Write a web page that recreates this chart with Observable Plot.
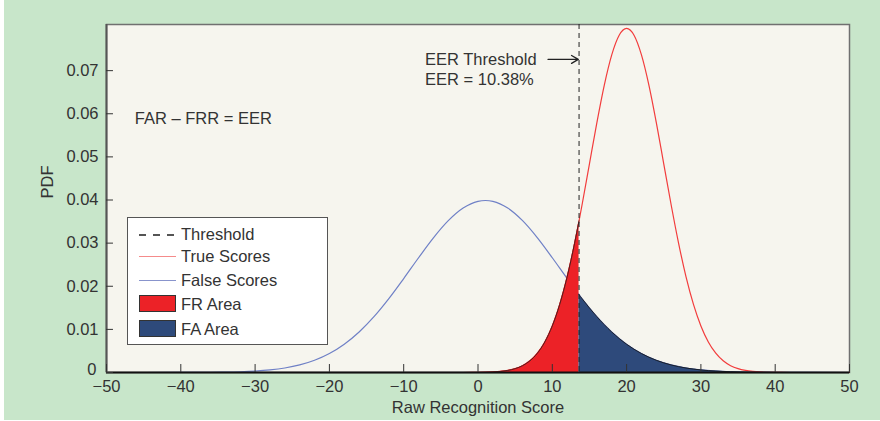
<!DOCTYPE html>
<html><head><meta charset="utf-8">
<script src="https://cdn.jsdelivr.net/npm/d3@7"></script>
<script src="https://cdn.jsdelivr.net/npm/@observablehq/plot@0.6"></script>
<style>
html,body{margin:0;padding:0;background:#fff;}
#wrap{position:relative;width:880px;height:421px;overflow:hidden;font-family:"Liberation Sans",Arial,sans-serif;}
#bg{position:absolute;left:4px;top:0;width:876px;height:420px;background:#c8e6ca;}
#chart{position:absolute;left:0;top:0;}
#legend{position:absolute;left:127px;top:217px;width:201px;height:128px;background:#fff;border:1px solid #555;box-sizing:border-box;}
.it{position:absolute;left:0;height:20px;width:200px;}
.it .sw{position:absolute;left:11px;width:37px;}
.it .lb{position:absolute;left:53px;top:0;font-size:16.5px;line-height:20px;color:#333;white-space:nowrap;}
</style></head>
<body><div id="wrap"><div id="bg"></div><div id="chart"></div><div id="legend"></div></div>
<script>
const threshold = 13.6;
const xTicks = [-50,-40,-30,-20,-10,0,10,20,30,40,50];
const yTicks = [0,0.01,0.02,0.03,0.04,0.05,0.06,0.07];

const falseX = [-50,-40,-36,-34,-32,-30,-28,-26,-24,-22,-20,-18,-16,-14,-12,-10,-8,-6,-4,-2,0,1,2,4,6,8,10,12,13.6,14,16,18,20,22,24,26,28,30,32,34,36,38,40,50];
const falseY = [0,0.0000089,0.000042,0.000087,0.000172,0.000327,0.000595,0.001042,0.001753,0.002832,0.00440,0.00656,0.00940,0.01295,0.01714,0.02179,0.02661,0.03123,0.03521,0.03814,0.03970,0.03989,0.03970,0.03814,0.03521,0.03123,0.02661,0.02179,0.01804,0.01714,0.01295,0.00940,0.00656,0.00440,0.002832,0.001753,0.001042,0.000595,0.000327,0.000172,0.000087,0.000042,0.0000199,0];

const trueX = [-50,-4,-2,0,2,4,5,6,7,8,9,10,11,12,13,13.6,14,15,16,17,18,19,20,21,22,23,24,25,26,27,28,29,30,31,32,33,34,35,36,37,38,39,40,42,44,50];
const trueY = [0,0.0000008,0.000005,0.0000268,0.0001224,0.000477,0.000887,0.001583,0.002717,0.00448,0.00709,0.01080,0.01579,0.02218,0.02995,0.03517,0.03884,0.04839,0.05794,0.06665,0.07365,0.07821,0.07979,0.07821,0.07365,0.06665,0.05794,0.04839,0.03884,0.02995,0.02218,0.01579,0.01080,0.00709,0.00448,0.002717,0.001583,0.000887,0.000477,0.000246,0.0001224,0.000058,0.0000268,0.000005,0.0000008,0];

const annotationLines = ["EER Threshold", "EER = 10.38%"];
const formulaText = "FAR \u2013 FRR = EER";
const xLabel = "Raw Recognition Score";
const yLabel = "PDF";
const legendItems = [
  {label:"Threshold", kind:"dash", color:"#555"},
  {label:"True Scores", kind:"line", color:"#f58b8b"},
  {label:"False Scores", kind:"line", color:"#8894cc"},
  {label:"FR Area", kind:"patch", color:"#ec2227"},
  {label:"FA Area", kind:"patch", color:"#2e4a7b"}
];

const trueData = trueX.map((x,i)=>({x, y:trueY[i]}));
const falseData = falseX.map((x,i)=>({x, y:falseY[i]}));
const frData = trueData.filter(d=>d.x<=threshold);
const faData = falseData.filter(d=>d.x>=threshold);

const curve = "monotone-x";
const chart = Plot.plot({
  width:880, height:421,
  marginLeft:106, marginRight:31, marginTop:24, marginBottom:49,
  x:{domain:[-50,50]},
  y:{domain:[0,0.0807]},
  style:{background:"transparent", fontFamily:"'Liberation Sans', Arial, sans-serif", fontSize:"16.5px", color:"#333", overflow:"visible"},
  marks:[
    Plot.frame({fill:"#f6f5ee", stroke:"#707070", strokeWidth:1.5}),
    Plot.line(falseData, {x:"x", y:"y", stroke:"#6f80c6", strokeWidth:1.2, curve}),
    Plot.line(trueData, {x:"x", y:"y", stroke:"#f23c3c", strokeWidth:1.2, curve}),
    Plot.areaY(frData, {x:"x", y:"y", fill:"#ec2227", curve}),
    Plot.line(frData, {x:"x", y:"y", stroke:"#2a1a1a", strokeWidth:0.8, curve}),
    Plot.areaY(faData, {x:"x", y:"y", fill:"#2e4a7b", curve}),
    Plot.line(faData, {x:"x", y:"y", stroke:"#111", strokeWidth:0.8, curve}),
    Plot.ruleX([threshold], {stroke:"#222", strokeWidth:1, strokeDasharray:"5,4"}),
    Plot.ruleY([0], {stroke:"#111", strokeWidth:2}),
    Plot.ruleX([-50], {stroke:"#555", strokeWidth:2}),
    Plot.ruleX(xTicks, {x:d=>d, y1:0, y2:0.00185, stroke:"#333", strokeWidth:1}),
    Plot.ruleY(yTicks, {y:d=>d, x1:-50, x2:-49.06, stroke:"#333", strokeWidth:1}),
    Plot.axisX({ticks:xTicks, tickSize:0, tickPadding:8, label:null}),
    Plot.axisY({ticks:yTicks.filter(d=>d!==0), tickSize:0, tickPadding:8, label:null, tickFormat:d=>d.toFixed(2)}),
    Plot.axisY({ticks:[0], tickSize:0, tickPadding:10, dy:-3, label:null, tickFormat:()=>"0"}),
    Plot.text([xLabel], {frameAnchor:"bottom", lineAnchor:"middle", dy:35, text:d=>d}),
    Plot.text([yLabel], {frameAnchor:"left", dx:-59, rotate:-90, text:d=>d}),
    Plot.text([formulaText], {x:-46.2, y:0.0589, text:d=>d, textAnchor:"start"}),
    Plot.text(annotationLines, {x:threshold, y:(d,i)=>[0.0726,0.0679][i], dx:-154, text:d=>d, textAnchor:"start"}),
    Plot.arrow([0], {x1:threshold-4.17, x2:threshold-0.1, y1:0.0726, y2:0.0726, stroke:"#222", strokeWidth:1.3, headLength:9})
  ]
});
document.getElementById("chart").appendChild(chart);

const legend = document.getElementById("legend");
const tops = [6, 28, 52, 76, 101];
legendItems.forEach((it,i)=>{
  const row = document.createElement("div");
  row.className = "it";
  row.style.top = tops[i] + "px";
  const sw = document.createElement("div");
  sw.className = "sw";
  if (it.kind === "patch") {
    sw.style.top = "1px"; sw.style.height = "17px"; sw.style.background = it.color;
    sw.style.border = "1px solid #333"; sw.style.boxSizing = "border-box";
  } else if (it.kind === "dash") {
    sw.style.top = "10px"; sw.style.height = "1.5px";
    sw.style.background = "repeating-linear-gradient(to right," + it.color + " 0 7px, transparent 7px 14px)";
  } else {
    sw.style.top = "10px"; sw.style.height = "0"; sw.style.borderTop = "1.5px solid " + it.color;
  }
  const lb = document.createElement("div");
  lb.className = "lb"; lb.textContent = it.label;
  row.appendChild(sw); row.appendChild(lb);
  legend.appendChild(row);
});
</script>
</body></html>
